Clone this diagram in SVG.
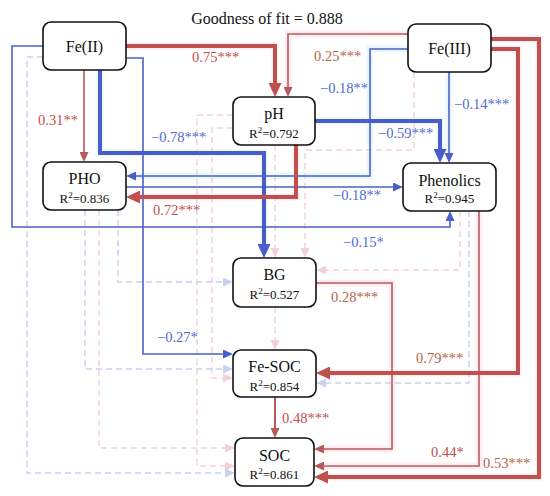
<svg xmlns="http://www.w3.org/2000/svg" width="550" height="496" viewBox="0 0 550 496" font-family="'Liberation Serif', 'DejaVu Serif', serif">
<defs>
<style>
text{font-family:'Liberation Serif','Times New Roman','DejaVu Serif',serif}
.box{fill:#fff;stroke:#111;stroke-width:1.6}
.nm{font-size:16px;fill:#111;text-anchor:middle}
.r2{font-size:13px;fill:#111;text-anchor:middle}
.lb{font-size:14.5px}
.lr{fill:#c0504d}
.lbr{fill:#b5654a}
.lbl{fill:#4f6cd6}
.hr{fill:none;stroke:#fdeef4;stroke-width:7}
.hb{fill:none;stroke:#eaf8fc;stroke-width:7}
.r{fill:none;stroke:#b85a5a;stroke-width:1.6}
.rt{fill:none;stroke:#c0504d;stroke-width:4}
.b{fill:none;stroke:#4a60c8;stroke-width:1.6}
.bt{fill:none;stroke:#4a5cc9;stroke-width:4}
.db{fill:none;stroke:#c9d1ef;stroke-width:1.5;stroke-dasharray:6 4}
.dp{fill:none;stroke:#f1d2da;stroke-width:1.5;stroke-dasharray:6 4}
</style>
<marker id="aRb" markerUnits="userSpaceOnUse" markerWidth="14" markerHeight="13" refX="0" refY="6.5" orient="auto"><path d="M0,0 L14,6.5 L0,13 z" fill="#c0504d"/></marker>
<marker id="aR" markerUnits="userSpaceOnUse" markerWidth="10" markerHeight="9" refX="0" refY="4.5" orient="auto"><path d="M0,0 L10,4.5 L0,9 z" fill="#b85a5a"/></marker>
<marker id="aBb" markerUnits="userSpaceOnUse" markerWidth="14" markerHeight="13" refX="0" refY="6.5" orient="auto"><path d="M0,0 L14,6.5 L0,13 z" fill="#4a5cc9"/></marker>
<marker id="aB" markerUnits="userSpaceOnUse" markerWidth="10" markerHeight="9" refX="0" refY="4.5" orient="auto"><path d="M0,0 L10,4.5 L0,9 z" fill="#4a60c8"/></marker>
<marker id="aDB" markerUnits="userSpaceOnUse" markerWidth="10" markerHeight="9" refX="0" refY="4.5" orient="auto"><path d="M0,0 L10,4.5 L0,9 z" fill="#c9d1ef"/></marker>
<marker id="aDP" markerUnits="userSpaceOnUse" markerWidth="10" markerHeight="9" refX="0" refY="4.5" orient="auto"><path d="M0,0 L10,4.5 L0,9 z" fill="#f1d2da"/></marker>
</defs>
<rect width="550" height="496" fill="#fff"/>
<text x="267" y="24" class="nm" font-family="'Liberation Serif', serif">Goodness of fit = 0.888</text>
<g id="connectors">
<g id="halos">
<path class="hr" d="M126,46 H275 V90"/>
<path class="hr" d="M408,34 H288 V90"/>
<path class="hr" d="M296,145 V197 H135"/>
<path class="hr" d="M491,49 H518 V373 H325"/>
<path class="hr" d="M491,39 H539 V477 H323"/>
<path class="hr" d="M479,211 V466 H323"/>
<path class="hr" d="M316,283 H392 V449 H323"/>
<path class="hb" d="M100,70 V153 H264 V250"/>
<path class="hb" d="M408,49 H370 V176 H135"/>
<path class="hb" d="M315,121 H440 V155"/>
<path class="hb" d="M449,72 V155"/>
</g>
<path class="dp" d="M233,115 H197 V466 H225" marker-end="url(#aDP)"/>
<path class="dp" d="M233,128 H212 V378 H223" marker-end="url(#aDP)"/>
<path class="dp" d="M99,210 V448 H225" marker-end="url(#aDP)"/>
<path class="dp" d="M275,145 V248" marker-end="url(#aDP)"/>
<path class="dp" d="M414,72 V150 H305 V248" marker-end="url(#aDP)"/>
<path class="dp" d="M460,211 V270 H326" marker-end="url(#aDP)"/>
<path class="dp" d="M275,307 V340" marker-end="url(#aDP)"/>
<path class="db" d="M43,57 H27 V473 H225" marker-end="url(#aDB)"/>
<path class="db" d="M85,210 V369 H223" marker-end="url(#aDB)"/>
<path class="db" d="M118,210 V282 H223" marker-end="url(#aDB)"/>
<path class="db" d="M469,211 V383 H326" marker-end="url(#aDB)"/>
<path class="b" d="M43,46 H12 V227 H450 V221" marker-end="url(#aB)"/>
<path class="b" d="M126,58 H143 V354 H223" marker-end="url(#aB)"/>
<path class="b" d="M449,72 V153" marker-end="url(#aB)"/>
<path class="b" d="M408,49 H370 V176 H136" marker-end="url(#aB)"/>
<path class="b" d="M126,187 H393" marker-end="url(#aB)"/>
<path class="bt" d="M100,70 V153 H264 V244" marker-end="url(#aBb)"/>
<path class="bt" d="M315,121 H440 V149" marker-end="url(#aBb)"/>
<path class="r" d="M84,70 V152" marker-end="url(#aR)"/>
<path class="r" d="M408,34 H288 V87" marker-end="url(#aR)"/>
<path class="r" d="M479,211 V466 H324" marker-end="url(#aR)"/>
<path class="r" d="M316,283 H392 V449 H324" marker-end="url(#aR)"/>
<path class="r" d="M275,397 V428" marker-end="url(#aR)" style="stroke-width:2"/>
<path class="rt" d="M126,46 H275 V83" marker-end="url(#aRb)"/>
<path class="rt" d="M296,145 V197 H140" marker-end="url(#aRb)"/>
<path class="rt" d="M491,49 H518 V373 H330" marker-end="url(#aRb)"/>
<path class="rt" d="M491,39 H539 V477 H328" marker-end="url(#aRb)"/>
<g id="labels">
<text class="lb lr" x="192" y="62">0.75***</text>
<text class="lb lr" x="38" y="125">0.31**</text>
<text class="lb lbr" x="314" y="61">0.25***</text>
<text class="lb lbl" x="320" y="93">−0.18**</text>
<text class="lb lbl" x="454" y="109">−0.14***</text>
<text class="lb lbl" x="151" y="142">−0.78***</text>
<text class="lb lbl" x="378" y="138">−0.59***</text>
<text class="lb lr" x="153" y="215">0.72***</text>
<text class="lb lbl" x="333" y="200">−0.18**</text>
<text class="lb lbl" x="343" y="247">−0.15*</text>
<text class="lb lbr" x="331" y="302">0.28***</text>
<text class="lb lbl" x="157" y="342">−0.27*</text>
<text class="lb lbr" x="416" y="363">0.79***</text>
<text class="lb lr" x="282" y="423">0.48***</text>
<text class="lb lr" x="431" y="457">0.44*</text>
<text class="lb lbr" x="483" y="468">0.53***</text>
</g>
</g>
<g id="fe2"><rect class="box" x="43" y="22" width="83" height="48" rx="8"/><text class="nm" x="84.5" y="52">Fe(II)</text></g>
<g id="fe3"><rect class="box" x="408" y="24" width="83" height="48" rx="8"/><text class="nm" x="449.5" y="54">Fe(III)</text></g>
<g id="ph"><rect class="box" x="233" y="97" width="82" height="48" rx="8"/><text class="nm" x="274" y="119">pH</text><text class="r2" x="274" y="138">R<tspan dy="-5" font-size="9">2</tspan><tspan dy="5">=0.792</tspan></text></g>
<g id="pho"><rect class="box" x="43" y="162" width="83" height="48" rx="8"/><text class="nm" x="84.5" y="184">PHO</text><text class="r2" x="84.5" y="203">R<tspan dy="-5" font-size="9">2</tspan><tspan dy="5">=0.836</tspan></text></g>
<g id="phen"><rect class="box" x="403" y="163" width="93" height="48" rx="8"/><text class="nm" x="449.5" y="186">Phenolics</text><text class="r2" x="449.5" y="203">R<tspan dy="-5" font-size="9">2</tspan><tspan dy="5">=0.945</tspan></text></g>
<g id="bg"><rect class="box" x="233" y="258" width="83" height="49" rx="8"/><text class="nm" x="274.5" y="280">BG</text><text class="r2" x="274.5" y="299">R<tspan dy="-5" font-size="9">2</tspan><tspan dy="5">=0.527</tspan></text></g>
<g id="fesoc"><rect class="box" x="233" y="350" width="83" height="47" rx="8"/><text class="nm" x="274.5" y="372">Fe-SOC</text><text class="r2" x="274.5" y="391">R<tspan dy="-5" font-size="9">2</tspan><tspan dy="5">=0.854</tspan></text></g>
<g id="soc"><rect class="box" x="235" y="438" width="79" height="48" rx="8"/><text class="nm" x="274.5" y="461">SOC</text><text class="r2" x="274.5" y="479">R<tspan dy="-5" font-size="9">2</tspan><tspan dy="5">=0.861</tspan></text></g>
</svg>
